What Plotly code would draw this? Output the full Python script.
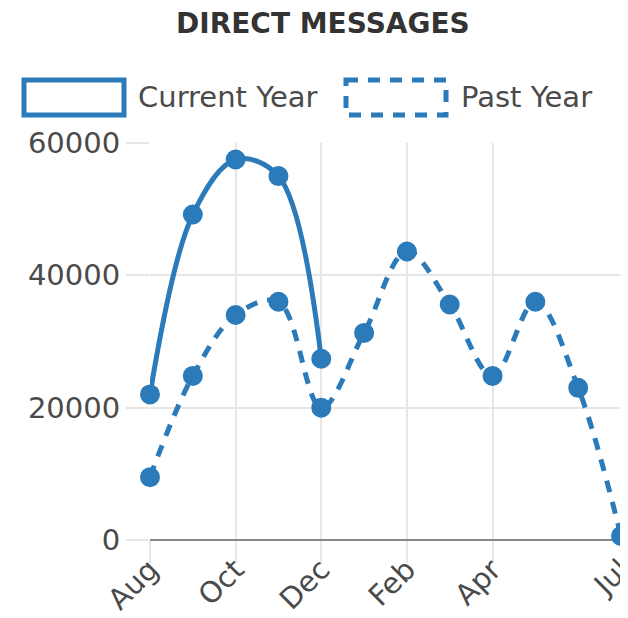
import plotly.graph_objects as go

months = ["Aug", "Sep", "Oct", "Nov", "Dec", "Jan", "Feb", "Mar", "Apr", "May", "Jun", "Jul"]
current_year = [22000, 49200, 57500, 55000, 27400]
past_year = [9500, 24800, 34000, 36000, 20000, 31300, 43600, 35600, 24800, 36000, 23000, 600]
tick_months = ["Aug", "Oct", "Dec", "Feb", "Apr", "Jul"]
y_ticks = [0, 20000, 40000, 60000]

BLUE = "#2b7bba"
FONT = "DejaVu Sans"

# page body has an 8px margin, so the figure is drawn 8px in from the corner
OFF = 8
W, H = 628 - OFF, 618 - OFF
L, R, T, B = 150 - OFF, 7, 143 - OFF, 78


def px(x, y):
    """screen pixel position -> paper coords"""
    x, y = x - OFF, y - OFF
    return (x - L) / (W - L - R), (H - B - y) / (H - T - B)


x_idx = list(range(len(months)))

fig = go.Figure()

fig.add_trace(go.Scatter(
    x=x_idx[:len(current_year)], y=current_year,
    mode="lines+markers", name="Current Year",
    line=dict(color=BLUE, width=5, shape="spline", smoothing=1),
    marker=dict(size=18, color=BLUE, line=dict(color=BLUE, width=2)),
    cliponaxis=False, showlegend=False,
))

fig.add_trace(go.Scatter(
    x=x_idx, y=past_year,
    mode="lines+markers", name="Past Year",
    line=dict(color=BLUE, width=5, shape="spline", smoothing=1, dash="12px,10px"),
    marker=dict(size=18, color=BLUE, line=dict(color=BLUE, width=2)),
    cliponaxis=False, showlegend=False,
))

# legend drawn by hand (outlined boxes)
x0, y0 = px(24, 80)
x1, y1 = px(124, 115)
fig.add_shape(type="rect", xref="paper", yref="paper", x0=x0, y0=y0, x1=x1, y1=y1,
              line=dict(color=BLUE, width=5), fillcolor="white")
x0, y0 = px(346, 80)
x1, y1 = px(446, 115)
fig.add_shape(type="rect", xref="paper", yref="paper", x0=x0, y0=y0, x1=x1, y1=y1,
              line=dict(color=BLUE, width=5, dash="12px,10px"), fillcolor="white")
ax, ay = px(136, 97)
fig.add_annotation(x=ax, y=ay, xref="paper", yref="paper", text="Current Year",
                   showarrow=False, xanchor="left", yanchor="middle",
                   font=dict(family=FONT, size=29, color="#4a4a4a"))
ax, ay = px(459, 97)
fig.add_annotation(x=ax, y=ay, xref="paper", yref="paper", text="Past Year",
                   showarrow=False, xanchor="left", yanchor="middle",
                   font=dict(family=FONT, size=29, color="#4a4a4a"))

tx, ty = px(323, 24)
fig.add_annotation(x=tx, y=ty, xref="paper", yref="paper", text="<b>DIRECT MESSAGES</b>",
                   showarrow=False, xanchor="center", yanchor="middle",
                   font=dict(family=FONT, size=28, color="#333"))

fig.update_layout(
    width=W, height=H,
    margin=dict(l=L, r=R, t=T, b=B),
    paper_bgcolor="white", plot_bgcolor="white",
    font=dict(family=FONT, size=29, color="#4a4a4a"),
    xaxis=dict(
        range=[0, 11],
        tickvals=[months.index(m) for m in tick_months],
        ticktext=tick_months,
        tickangle=-45,
        showgrid=True, gridcolor="#e6e6e6", gridwidth=2,
        ticks="outside", ticklen=22, tickcolor="#e6e6e6", tickwidth=2,
        ticklabelstandoff=-22, ticklabeloverflow="allow",
        zeroline=False, showline=False, automargin=False,
    ),
    yaxis=dict(
        range=[0, 60000],
        tickvals=y_ticks,
        tickformat="d",
        showgrid=True, gridcolor="#e6e6e6", gridwidth=2,
        ticks="outside", ticklen=23, tickcolor="#e6e6e6", tickwidth=2,
        zeroline=True, zerolinecolor="#888", zerolinewidth=2,
        showline=False, automargin=False,
    ),
)

fig.write_html("out.html")
